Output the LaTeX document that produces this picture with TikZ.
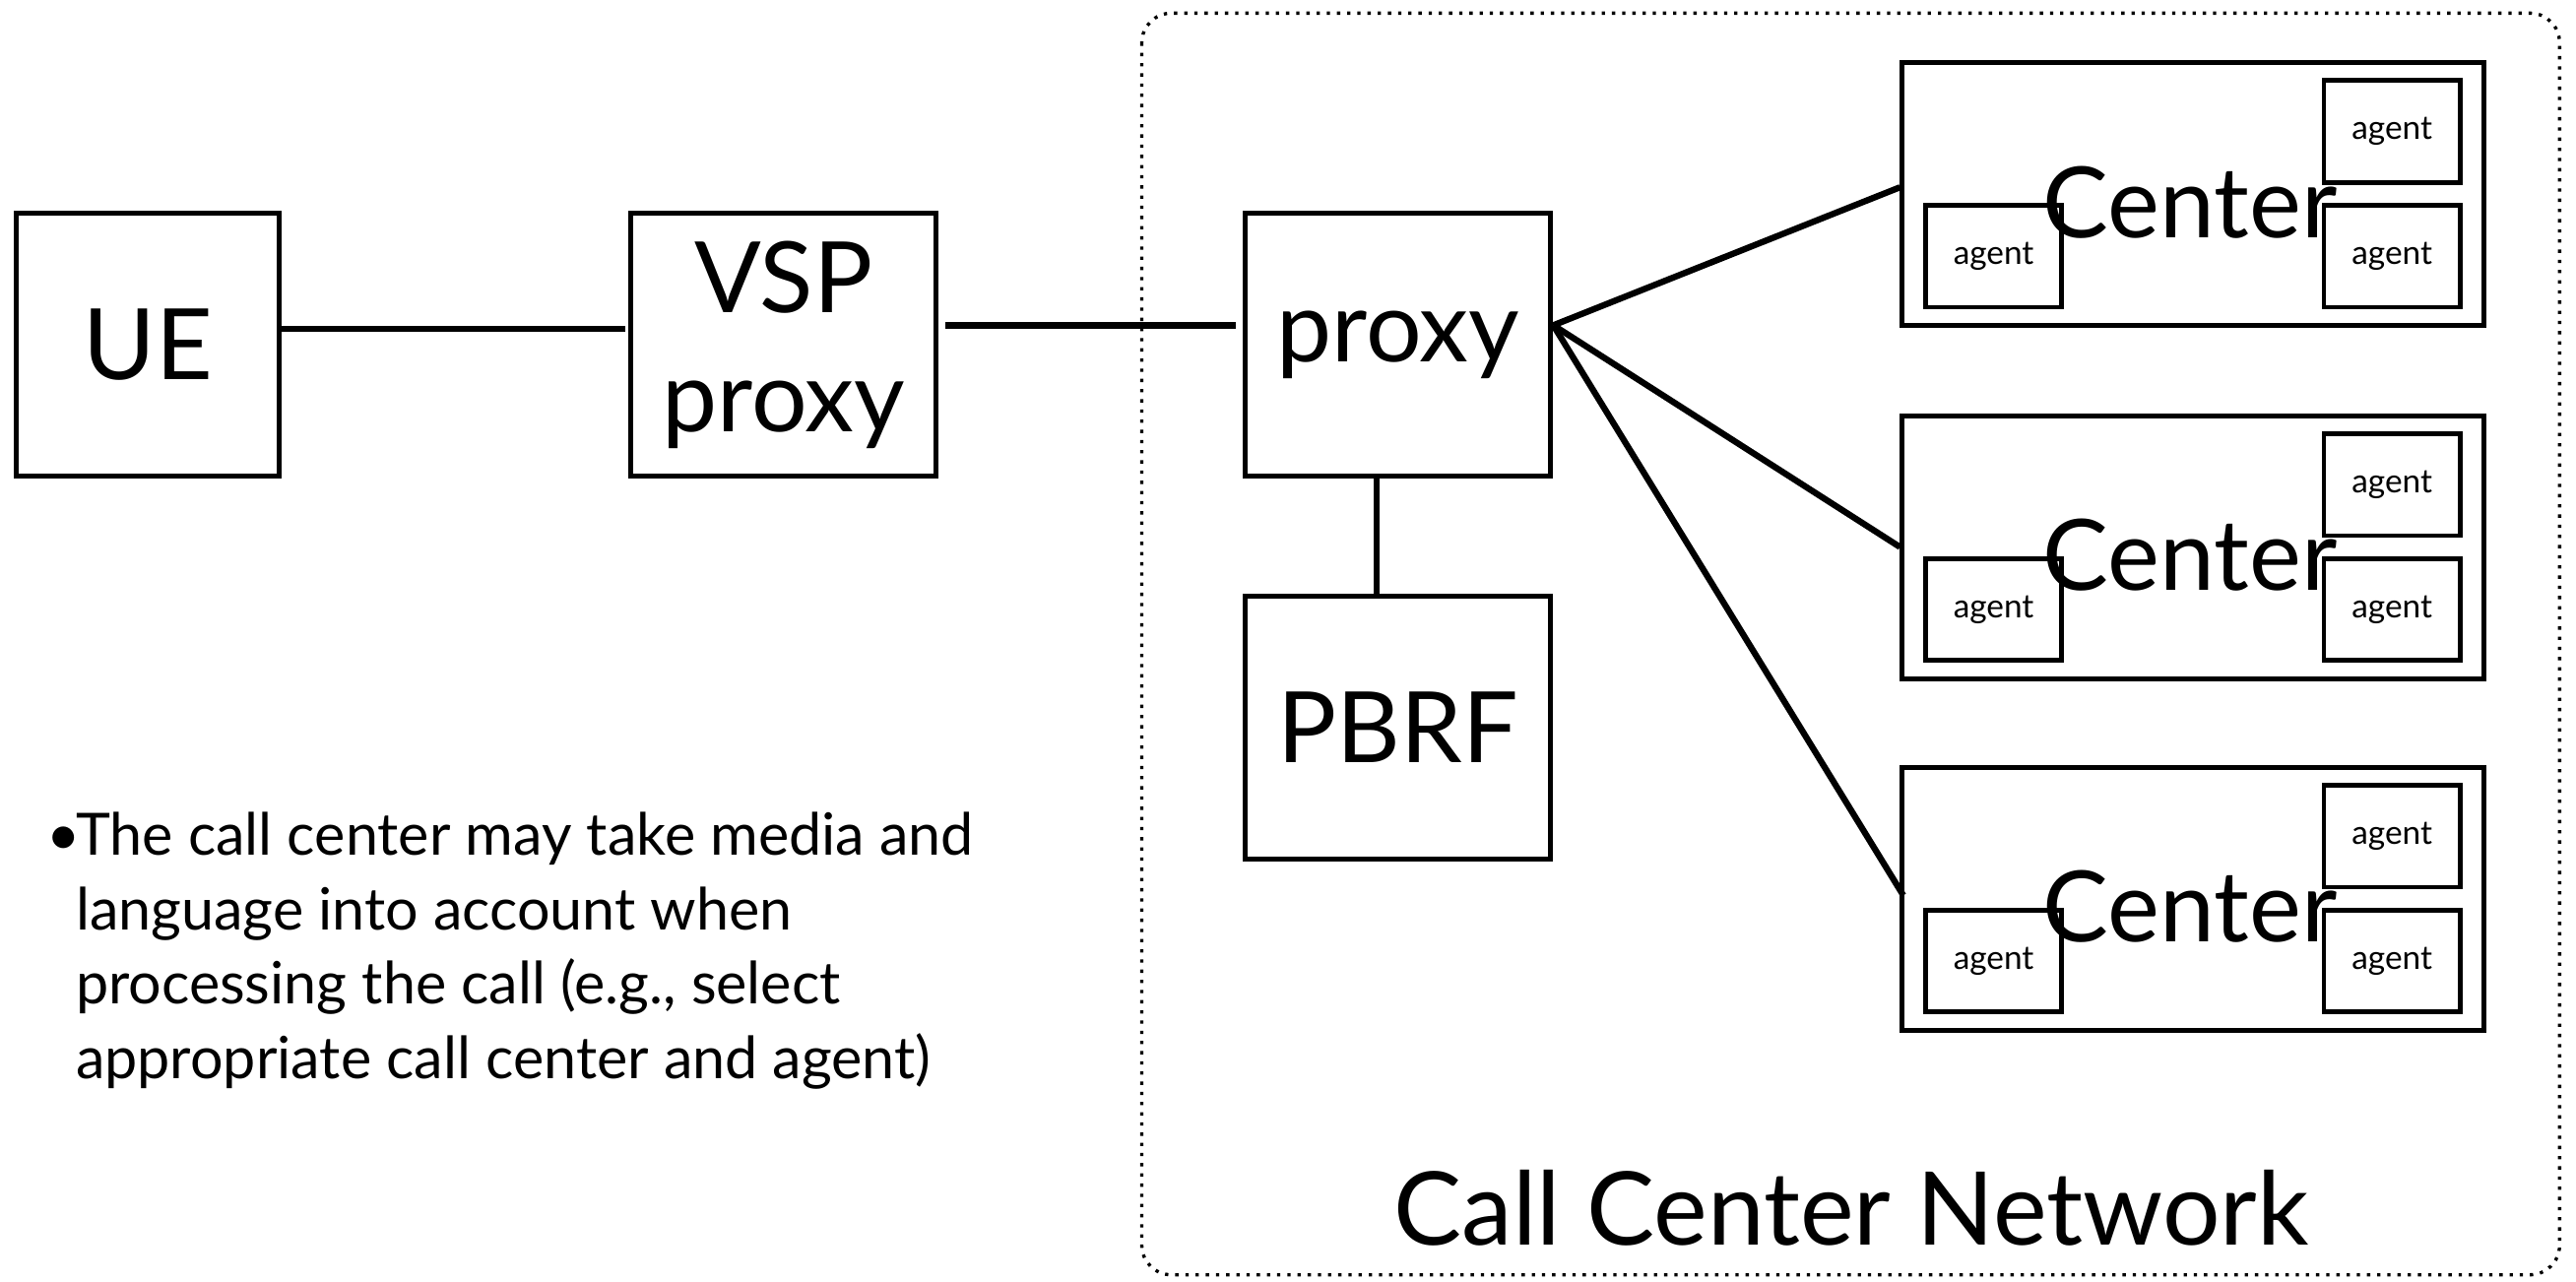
\documentclass[tikz,border=0pt]{standalone}
\usepackage{fontspec}
\setmainfont{Lato}
\begin{document}
\begin{tikzpicture}[x=1pt,y=-1pt,
  box/.style={draw=black, line width=3pt, inner sep=0pt, align=center},
  big/.style={font=\fontsize{60}{72}\selectfont},
  agentbox/.style={draw=black, line width=2.8pt, minimum width=83pt, minimum height=62pt, inner sep=0pt, font=\fontsize{20}{22}\selectfont},
  centerbox/.style={draw=black, line width=3pt, minimum width=354pt, minimum height=160pt, inner sep=0pt},
  conn/.style={line width=3.8pt},
  netborder/.style={line width=2pt, dash pattern=on 2pt off 4.2pt, rounded corners=18pt}
]
\useasboundingbox (0,0) rectangle (1568,780);

% call center network border
\draw[netborder] (695,8) rectangle (1558,776);
\node[font=\fontsize{62}{64}\selectfont, anchor=base] (ccn) at (1127,758) {Call Center Network};

% main boxes
\node[box, big, minimum width=160pt, minimum height=160pt] (ue) at (90,210) {UE};
\node[box, big, minimum width=186pt, minimum height=160pt] (vsp) at (477,210) {VSP\\proxy};
\node[box, big, minimum width=186pt, minimum height=160pt] (proxy) at (851,210) {proxy};
\node[box, big, minimum width=186pt, minimum height=160pt] (pbrf) at (851,443) {PBRF};

% centers
\foreach \n/\cy in {c1/118, c2/333, c3/547}{
  \node[centerbox] (\n) at (1335,\cy) {};
  \node[agentbox] (\n a1) at (1456,\cy-38) {agent};
  \node[agentbox] (\n a2) at (1456,\cy+38) {agent};
  \node[agentbox] (\n a3) at (1213.5,\cy+38) {agent};
  \node[font=\fontsize{60}{62}\selectfont] (\n t) at (1333,\cy+5) {Center};
}

% connectors
\draw[conn] ([yshift=10pt]ue.east) -- ([yshift=10pt,xshift=-2pt]vsp.west);
\draw[conn] ([yshift=12pt,xshift=4pt]vsp.east) -- ([yshift=12pt,xshift=-4pt]proxy.west);
\draw[conn] ([xshift=-13pt]proxy.south) -- ([xshift=-13pt]pbrf.north);
\draw[conn] ([yshift=12pt]proxy.east) -- ([yshift=4pt]c1.west);
\draw[conn] ([yshift=12pt]proxy.east) -- (c2.west);
\draw[conn] ([yshift=12pt]proxy.east) -- ([xshift=2pt,yshift=2pt]c3.west);

% note
\node[anchor=north west, align=left, inner sep=0pt, font=\fontsize{35.5}{45.5}\selectfont] (note) at (28,494)
 {\makebox[18pt][l]{\textbullet}The call center may take media and\\
  \hspace*{18pt}language into account when\\
  \hspace*{18pt}processing the call (e.g., select\\
  \hspace*{18pt}appropriate call center and agent)};
\end{tikzpicture}
\end{document}
